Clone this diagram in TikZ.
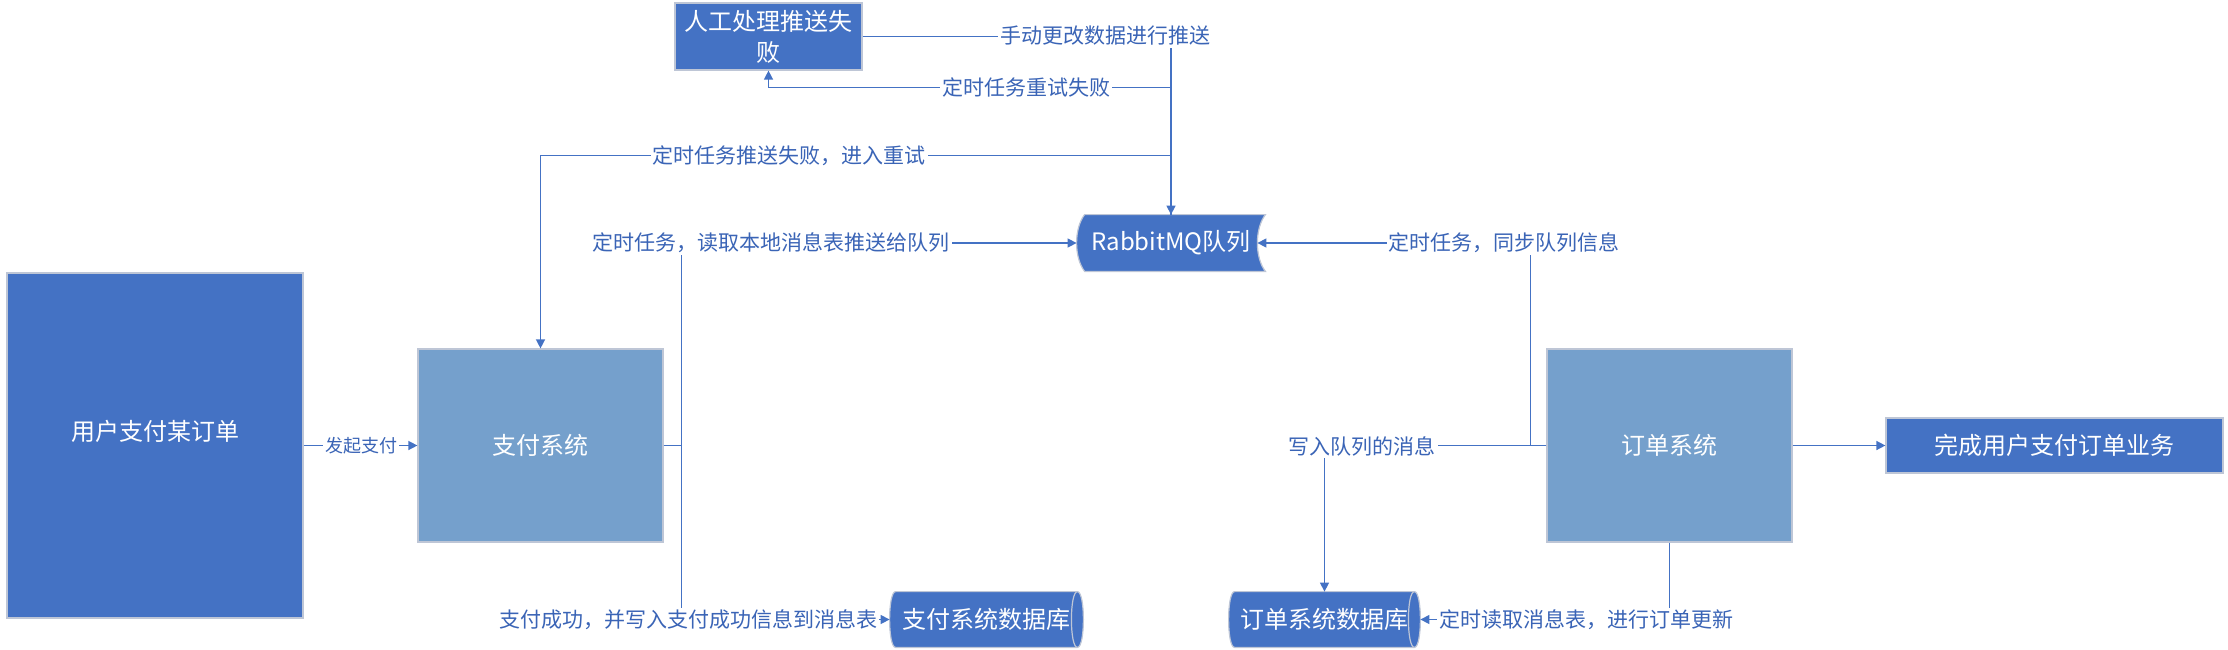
\documentclass[tikz,border=0pt]{standalone}
\usepackage{fontspec}
\setmainfont{Noto Sans CJK SC}
\usetikzlibrary{arrows.meta, positioning, calc, backgrounds}
\definecolor{flowblue}{RGB}{68, 114, 196}
\definecolor{sysblue}{RGB}{117, 160, 204}
\definecolor{rimgray}{RGB}{190, 198, 214}
\definecolor{labelblue}{RGB}{58, 100, 182}

\begin{document}
\begin{tikzpicture}[x=0.5pt, y=-0.5pt,
  box/.style={draw=rimgray, line width=0.6pt, fill=flowblue, text=white, font=\fontsize{12}{15.5}\selectfont, align=center, inner sep=0pt},
  sysbox/.style={box, fill=sysblue},
  shapebox/.style={text=white, font=\fontsize{12}{15.5}\selectfont, inner sep=0pt},
  rim/.style={draw=rimgray, line width=0.6pt, fill=flowblue},
  flow/.style={draw=flowblue, line width=0.7pt, -{Triangle[length=4.5pt, width=4.5pt]}},
  lbl/.style={fill=white, text=labelblue, font=\fontsize{10.5}{12}\selectfont, inner sep=1pt}]
  \useasboundingbox (0,0) rectangle (2228,649);

  \node[box, minimum width=148pt, minimum height=172.5pt] (user) at (155,445.5) {用户支付某订单\\\mbox{}};
  \node[sysbox, minimum width=122.5pt, minimum height=96.5pt] (pay) at (540.5,445.5) {支付系统};
  \node[sysbox, minimum width=122.5pt, minimum height=96.5pt] (order) at (1669.5,445.5) {订单系统};
  \node[box, minimum width=168.5pt, minimum height=27.5pt] (done) at (2054.5,445.5) {完成用户支付订单业务};
  \node[box, minimum width=93.5pt, minimum height=33.5pt] (manual) at (768.5,36.5) {人工处理推送失\\败};
  \node[shapebox, minimum width=94pt, minimum height=28pt] (mq) at (1171,243) {RabbitMQ队列};
  \node[shapebox, minimum width=96.5pt, minimum height=27.5pt] (paydb) at (986.5,619.5) {支付系统数据库};
  \node[shapebox, minimum width=95.5pt, minimum height=27.5pt] (orderdb) at (1324.5,619.5) {订单系统数据库};
  \coordinate (mqin) at ($(mq.east)+(-8,0)$);

  \begin{scope}[on background layer]
    \path[rim] ($(mq.north west)+(8,0)$) -- (mq.north east)
      .. controls ($(mq.north east)+(-10.7,14)$) and ($(mq.south east)+(-10.7,-14)$) .. (mq.south east)
      -- ($(mq.south west)+(8,0)$)
      .. controls ($(mq.south west)+(-2.7,-14)$) and ($(mq.north west)+(-2.7,14)$) .. ($(mq.north west)+(8,0)$) -- cycle;
    \foreach \db in {paydb, orderdb} {
      \path[rim] ($(\db.north west)+(6,0)$) -- ($(\db.north east)+(-6,0)$)
        .. controls +(8,0) and +(8,0) .. ($(\db.south east)+(-6,0)$)
        -- ($(\db.south west)+(6,0)$)
        .. controls +(-8,0) and +(-8,0) .. ($(\db.north west)+(6,0)$) -- cycle;
      \draw[rimgray, line width=0.6pt] ($(\db.north east)+(-6,0)$)
        .. controls +(-8,0) and +(-8,0) .. ($(\db.south east)+(-6,0)$);
    }
  \end{scope}

  \draw[flow] (user.east) -- (pay.west);
  \draw[flow] (manual.east) -| (mq.north);
  \draw[flow] (mq.north) |- ($(manual.south)+(0,17)$) -- (manual.south);
  \draw[flow] (mq.north) |- ($(pay.north)+(0,-193)$) -- (pay.north);
  \draw[flow] (pay.east) -- ++(18,0) |- (mq.west);
  \draw[flow] (pay.east) -- ++(18,0) |- (paydb.west);
  \draw[flow] (order.east) -- (done.west);
  \draw[flow] (order.west) -- ++(-16,0) |- (mqin);
  \draw[flow] (order.west) -| (orderdb.north);
  \draw[flow] (order.south) |- (orderdb.east);

  \node[lbl, font=\fontsize{9}{11}\selectfont] (startlbl) at (361,446) {发起支付};
  \node[lbl] (manuallbl) at (1105,36) {手动更改数据进行推送};
  \node[lbl] (failedlbl) at (1026,87) {定时任务重试失败};
  \node[lbl] (retrylbl) at (789,156) {定时任务推送失败，进入重试};
  \node[lbl] (pushlbl) at (771,243) {定时任务，读取本地消息表推送给队列};
  \node[lbl] (savelbl) at (688,620) {支付成功，并写入支付成功信息到消息表};
  \node[lbl] (synclbl) at (1504,243) {定时任务，同步队列信息};
  \node[lbl] (writelbl) at (1362,446) {写入队列的消息};
  \node[lbl] (readlbl) at (1586,620) {定时读取消息表，进行订单更新};
\end{tikzpicture}
\end{document}
